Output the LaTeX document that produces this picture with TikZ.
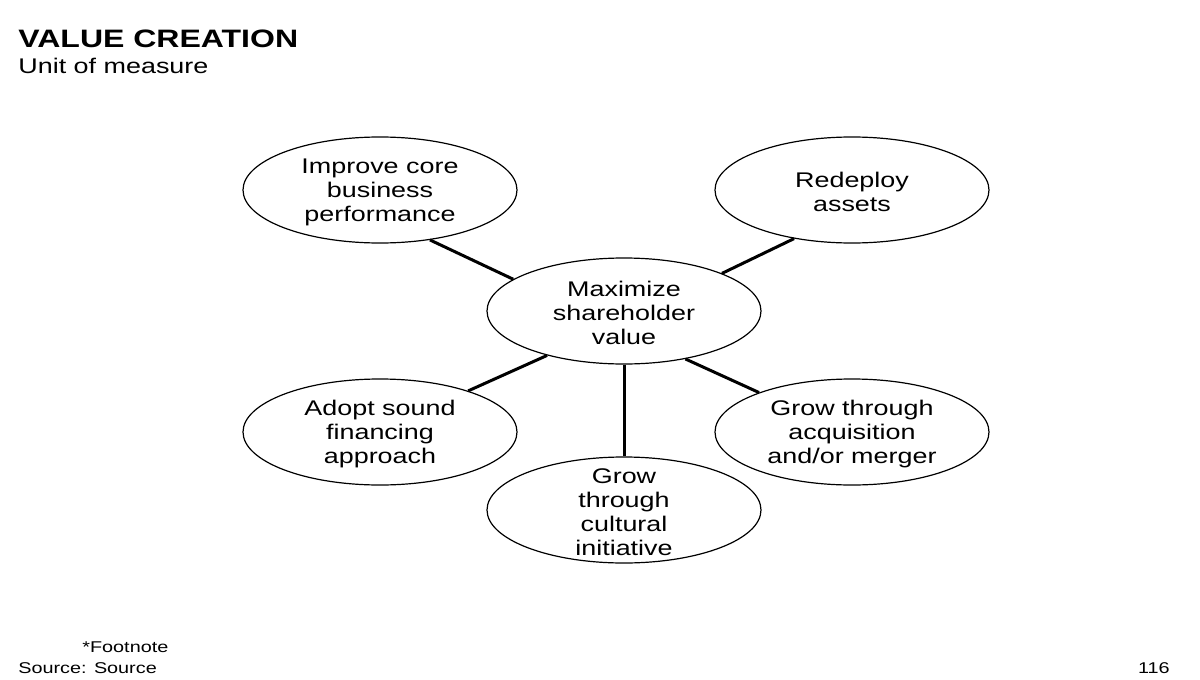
\documentclass[tikz,border=0pt]{standalone}
\usepackage{fontspec}
\setmainfont{Liberation Sans}[FakeStretch=1.27]
\usepackage{tikz}
\usetikzlibrary{shapes.geometric}

\begin{document}
\begin{tikzpicture}[x=0.5pt,y=-0.5pt,
  bubble/.style={ellipse,draw,line width=0.6pt,minimum width=137pt,minimum height=53pt,inner sep=0pt},
  bubbletext/.style={align=center,font=\fontsize{10.6}{12}\selectfont,inner sep=0pt,yshift=-1pt},
  spoke/.style={line width=1.5pt}]
\useasboundingbox (0,0) rectangle (1200,680);
\node[anchor=base west,inner sep=0pt,font=\fontsize{12.6}{14}\selectfont\bfseries] (title) at (18,47) {VALUE CREATION};
\node[anchor=base west,inner sep=0pt,font=\fontsize{10.6}{12}\selectfont] (unit) at (18,73) {Unit of measure};

\node[bubble,label={[bubbletext]center:{Maximize\\shareholder\\value}}] (ctr) at (624,311) {};
\node[bubble,label={[bubbletext]center:{Improve core\\business\\performance}}] (core) at (380,190) {};
\node[bubble,label={[bubbletext]center:{Redeploy\\assets}}] (assets) at (852,190) {};
\node[bubble,label={[bubbletext]center:{Adopt sound\\financing\\approach}}] (finance) at (380,432) {};
\node[bubble,label={[bubbletext]center:{Grow through\\acquisition\\and/or merger}}] (merger) at (852,432) {};
\node[bubble,label={[bubbletext]center:{Grow\\through\\cultural\\initiative}}] (culture) at (624,510) {};

\draw[spoke] (core.-45) -- (ctr.164);
\draw[spoke] (assets.220) -- (ctr.21);
\draw[spoke] (ctr.210) -- (finance.25);
\draw[spoke] (ctr.-38) -- (merger.157);
\draw[spoke] (ctr.south) -- (culture.north);

\node[anchor=base west,inner sep=0pt,font=\fontsize{7.8}{9}\selectfont] (note) at (82,652) {*Footnote};
\node[anchor=base west,inner sep=0pt,font=\fontsize{7.8}{9}\selectfont] (source) at (18,673) {Source: Source};
\node[anchor=base east,inner sep=0pt,font=\fontsize{7.8}{9}\selectfont] (page) at (1170,673) {116};
\end{tikzpicture}
\end{document}
